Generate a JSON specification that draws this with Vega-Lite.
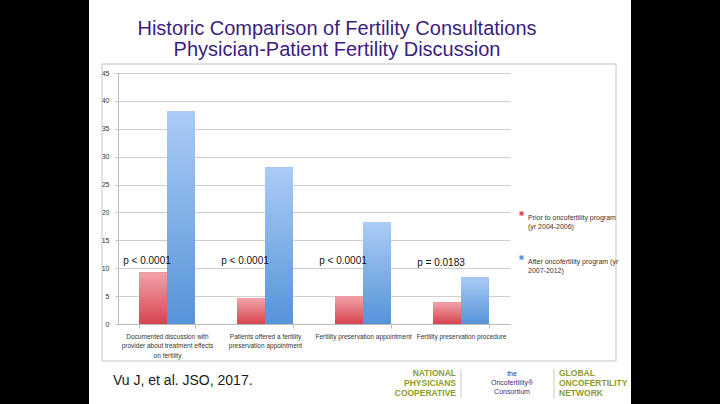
{
  "$schema": "https://vega.github.io/schema/vega-lite/v6.json",
  "autosize": "none",
  "width": 392,
  "height": 251,
  "padding": {"left": 118, "top": 73, "right": 210, "bottom": 80},
  "background": "#ffffff",
  "datasets": {
    "bars": [
      {"cat": "c1", "label": "Documented discussion with|provider about treatment effects|on fertility", "period": "Prior to oncofertility program|(yr 2004-2006)", "pct": 9.3},
      {"cat": "c1", "label": "Documented discussion with|provider about treatment effects|on fertility", "period": "After oncofertility program (yr|2007-2012)", "pct": 38.2},
      {"cat": "c2", "label": "Patients offered a fertility|preservation appointment", "period": "Prior to oncofertility program|(yr 2004-2006)", "pct": 4.6},
      {"cat": "c2", "label": "Patients offered a fertility|preservation appointment", "period": "After oncofertility program (yr|2007-2012)", "pct": 28.1},
      {"cat": "c3", "label": "Fertility preservation appointment", "period": "Prior to oncofertility program|(yr 2004-2006)", "pct": 5.0},
      {"cat": "c3", "label": "Fertility preservation appointment", "period": "After oncofertility program (yr|2007-2012)", "pct": 18.2},
      {"cat": "c4", "label": "Fertility preservation procedure", "period": "Prior to oncofertility program|(yr 2004-2006)", "pct": 3.9},
      {"cat": "c4", "label": "Fertility preservation procedure", "period": "After oncofertility program (yr|2007-2012)", "pct": 8.4}
    ],
    "pvals": [
      {"cat": "c1", "p": "p < 0.0001", "y": 11.3},
      {"cat": "c2", "p": "p < 0.0001", "y": 11.3},
      {"cat": "c3", "p": "p < 0.0001", "y": 11.3},
      {"cat": "c4", "p": "p = 0.0183", "y": 11.0}
    ],
    "one": [{"k": 1}]
  },
  "config": {
    "view": {"stroke": null},
    "font": "Liberation Sans",
    "axisY": {"tickCount": 9, "labelOverlap": false}
  },
  "layer": [
    {
      "data": {"name": "one"},
      "mark": {"type": "rect", "fill": "#000000"},
      "encoding": {
        "x": {"value": -118}, "x2": {"value": -29},
        "y": {"value": -73}, "y2": {"value": 331}
      }
    },
    {
      "data": {"name": "one"},
      "mark": {"type": "rect", "fill": "#000000"},
      "encoding": {
        "x": {"value": 513}, "x2": {"value": 602},
        "y": {"value": -73}, "y2": {"value": 331}
      }
    },
    {
      "data": {"name": "one"},
      "mark": {"type": "text", "text": ["Historic Comparison of Fertility Consultations", "Physician-Patient Fertility Discussion"], "fontSize": 20, "lineHeight": 21, "align": "center", "baseline": "alphabetic", "color": "#3a1d80"},
      "encoding": {"x": {"value": 219}, "y": {"value": -38}}
    },
    {
      "data": {"name": "one"},
      "mark": {"type": "rect", "fill": null, "stroke": "#c4c4c4", "strokeWidth": 1},
      "encoding": {
        "x": {"value": -16}, "x2": {"value": 498},
        "y": {"value": -9}, "y2": {"value": 288}
      }
    },
    {
      "data": {"name": "one"},
      "mark": {"type": "rule", "strokeWidth": 2.5, "stroke": {"gradient": "linear", "x1": 0, "y1": 0, "x2": 1, "y2": 0, "stops": [{"offset": 0, "color": "#3a1f86"}, {"offset": 0.85, "color": "#4a2d95"}, {"offset": 1, "color": "#c8c0e0"}]}},
      "encoding": {
        "x": {"value": -29}, "x2": {"value": 288},
        "y": {"value": 295}
      }
    },
    {
      "data": {"name": "one"},
      "mark": {"type": "text", "text": "Vu J, et al. JSO, 2017.", "fontSize": 14, "align": "left", "baseline": "alphabetic", "color": "#1a1a1a"},
      "encoding": {"x": {"value": -5}, "y": {"value": 312}}
    },
    {
      "data": {"name": "one"},
      "mark": {"type": "text", "text": ["NATIONAL", "PHYSICIANS", "COOPERATIVE"], "fontSize": 8.5, "fontWeight": "bold", "align": "right", "baseline": "top", "lineHeight": 10, "color": "#8c9c2c"},
      "encoding": {"x": {"value": 338}, "y": {"value": 296}}
    },
    {
      "data": {"name": "one"},
      "mark": {"type": "text", "text": ["GLOBAL", "ONCOFERTILITY", "NETWORK"], "fontSize": 8.5, "fontWeight": "bold", "align": "left", "baseline": "top", "lineHeight": 10, "color": "#8c9c2c"},
      "encoding": {"x": {"value": 441}, "y": {"value": 296}}
    },
    {
      "data": {"name": "one"},
      "mark": {"type": "text", "text": ["the", "Oncofertility®", "Consortium"], "fontSize": 7, "align": "center", "baseline": "top", "lineHeight": 9, "color": "#3a2a8a"},
      "encoding": {"x": {"value": 394}, "y": {"value": 297}}
    },
    {
      "data": {"name": "one"},
      "mark": {"type": "rule", "stroke": "#c8c8c8"},
      "encoding": {"x": {"value": 343}, "y": {"value": 296}, "y2": {"value": 325}}
    },
    {
      "data": {"name": "one"},
      "mark": {"type": "rule", "stroke": "#c8c8c8"},
      "encoding": {"x": {"value": 436}, "y": {"value": 296}, "y2": {"value": 325}}
    },
    {
      "data": {"name": "bars"},
      "mark": {"type": "bar"},
      "encoding": {
        "x": {
          "field": "label", "type": "nominal", "sort": null,
          "scale": {"paddingInner": 0.43, "paddingOuter": 0.215},
          "axis": {
            "title": null, "labelAngle": 0, "labelExpr": "split(datum.label, '|')",
            "labelFontSize": 6.5, "labelColor": "#333333", "labelLimit": 200, "labelPadding": 5,
            "labelLineHeight": 9.5, "tickBand": "extent", "tickColor": "#bbbbbb", "tickSize": 4,
            "domainColor": "#bbbbbb"
          }
        },
        "xOffset": {"field": "period", "type": "nominal", "sort": null},
        "y": {
          "field": "pct", "type": "quantitative",
          "scale": {"domain": [0, 45], "nice": false},
          "axis": {
            "title": null,
            "labelFontSize": 7, "labelColor": "#333333", "gridColor": "#cfcfcf",
            "domainColor": "#bbbbbb", "tickColor": "#bbbbbb", "tickSize": 3, "labelPadding": 6
          }
        },
        "color": {
          "field": "period", "type": "nominal", "sort": null,
          "scale": {"range": ["#dd4a55", "#5a96dc"]},
          "legend": {
            "title": null, "orient": "none", "legendX": 400, "legendY": 137,
            "symbolType": "square", "symbolSize": 16, "labelFontSize": 7,
            "labelColor": "#333333", "labelExpr": "split(datum.label, '|')",
            "labelLimit": 200, "rowPadding": 24, "labelBaseline": "top", "labelOffset": 3
          }
        }
      }
    },
    {
      "data": {"name": "bars"},
      "transform": [{"filter": "indexof(datum.period, 'Prior') == 0"}],
      "mark": {"type": "bar", "fill": {"gradient": "linear", "x1": 0, "y1": 0, "x2": 0, "y2": 1, "stops": [{"offset": 0, "color": "#f2a3ab"}, {"offset": 1, "color": "#d6444e"}]}},
      "encoding": {
        "x": {"field": "label", "type": "nominal", "sort": null},
        "xOffset": {"field": "period", "type": "nominal", "sort": null},
        "y": {"field": "pct", "type": "quantitative"}
      }
    },
    {
      "data": {"name": "bars"},
      "transform": [{"filter": "indexof(datum.period, 'After') == 0"}],
      "mark": {"type": "bar", "fill": {"gradient": "linear", "x1": 0, "y1": 0, "x2": 0, "y2": 1, "stops": [{"offset": 0, "color": "#aaccf6"}, {"offset": 1, "color": "#5693d8"}]}},
      "encoding": {
        "x": {"field": "label", "type": "nominal", "sort": null},
        "xOffset": {"field": "period", "type": "nominal", "sort": null},
        "y": {"field": "pct", "type": "quantitative"}
      }
    },
    {
      "data": {"name": "pvals"},
      "transform": [{"lookup": "cat", "from": {"data": {"name": "bars"}, "key": "cat", "fields": ["label"]}}],
      "mark": {"type": "text", "fontSize": 10, "color": "#111111", "dx": -20, "baseline": "middle"},
      "encoding": {
        "x": {"field": "label", "type": "nominal", "sort": null},
        "y": {"field": "y", "type": "quantitative"},
        "text": {"field": "p"}
      }
    }
  ]
}
